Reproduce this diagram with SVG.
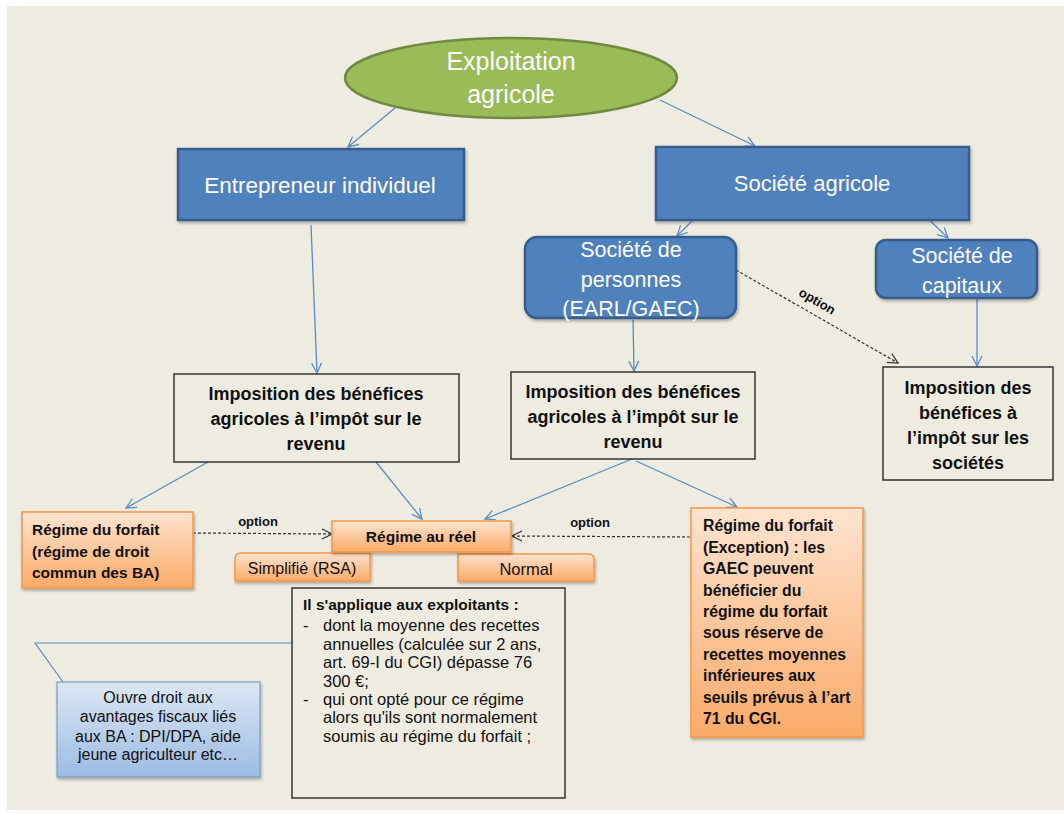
<svg xmlns="http://www.w3.org/2000/svg" width="1064" height="813" viewBox="0 0 1064 813">
<defs>
<linearGradient id="orange" x1="0" y1="0" x2="0" y2="1">
<stop offset="0" stop-color="#FFE4D0"/>
<stop offset="1" stop-color="#FAAA68"/>
</linearGradient>
<linearGradient id="blueGrad" x1="0" y1="0" x2="0" y2="1">
<stop offset="0" stop-color="#DDE7F4"/>
<stop offset="1" stop-color="#9BBBE4"/>
</linearGradient>
<filter id="shadow" x="-10%" y="-10%" width="130%" height="140%">
<feDropShadow dx="1" dy="2" stdDeviation="1.5" flood-color="#000" flood-opacity="0.3"/>
</filter>
<marker id="arrBlue" viewBox="0 0 12 12" refX="11" refY="6" markerWidth="12" markerHeight="12" markerUnits="userSpaceOnUse" orient="auto">
<path d="M1,1 L11,6 L1,11" fill="none" stroke="#5B8BC6" stroke-width="1.3"/>
</marker>
<marker id="arrDark" viewBox="0 0 12 12" refX="11" refY="6" markerWidth="12" markerHeight="12" markerUnits="userSpaceOnUse" orient="auto">
<path d="M1,1 L11,6 L1,11" fill="none" stroke="#333" stroke-width="1.2"/>
</marker>
</defs>
<style>
.blue{fill:#4F81BD;stroke:#385D8A;stroke-width:2.5}
.orng{fill:url(#orange);stroke:#F79646;stroke-width:1.5}
.plain{fill:none;stroke:#333;stroke-width:1.5}
.wt{font-family:"Liberation Sans",Arial,sans-serif;fill:#fff;text-anchor:middle}
.bd{font-family:"Liberation Sans",Arial,sans-serif;font-weight:bold;fill:#111}
.rg{font-family:"Liberation Sans",Arial,sans-serif;fill:#111}
.c{text-anchor:middle}
.conn{fill:none;stroke:#5B8BC6;stroke-width:1.3;marker-end:url(#arrBlue)}
.dash{fill:none;stroke:#333;stroke-width:1.2;stroke-dasharray:3 2;marker-end:url(#arrDark)}
.opt{font-family:"Liberation Sans",Arial,sans-serif;font-weight:bold;font-size:13px;fill:#111;text-anchor:middle}
</style>
<rect x="0" y="0" width="1064" height="813" fill="#ffffff"/>
<rect x="7" y="6" width="1057" height="804" fill="#EEECE1"/>

<g id="connectors">
<line class="conn" x1="395" y1="108" x2="348" y2="147"/>
<line class="conn" x1="660" y1="100" x2="755" y2="146"/>
<line class="conn" x1="708" y1="205" x2="677" y2="236"/>
<line class="conn" x1="914" y1="205" x2="948" y2="238"/>
<line class="conn" x1="311" y1="225" x2="317" y2="373"/>
<line class="conn" x1="633" y1="320" x2="634" y2="371"/>
<line class="conn" x1="977" y1="298" x2="977" y2="366"/>
<line class="conn" x1="208" y1="462" x2="126" y2="508"/>
<line class="conn" x1="376" y1="462" x2="422" y2="519"/>
<line class="conn" x1="632" y1="459" x2="485" y2="519"/>
<line class="conn" x1="636" y1="461" x2="737" y2="507"/>
<line class="dash" x1="736" y1="270" x2="898" y2="363"/>
<line class="dash" x1="193" y1="533" x2="332" y2="534"/>
<line class="dash" x1="690" y1="537" x2="512" y2="536"/>
<text class="opt" transform="translate(815,305) rotate(30)">option</text>
<text class="opt" x="258" y="526">option</text>
<text class="opt" x="590" y="527">option</text>
<polyline points="63,682 35,643 293,643" fill="none" stroke="#5B8BC6" stroke-width="1.2"/>
</g>

<g id="exploitation">
<ellipse cx="511" cy="78" rx="166" ry="40" fill="#9BBB59" stroke="#71893F" stroke-width="2.5"/>
<text class="wt" x="511" y="70" font-size="25">Exploitation</text>
<text class="wt" x="511" y="103" font-size="25">agricole</text>
</g>

<g id="entrepreneur">
<rect class="blue" x="178" y="149" width="286" height="71" filter="url(#shadow)"/>
<text class="wt" x="320" y="193" font-size="22.5">Entrepreneur individuel</text>
</g>

<g id="societe-agricole">
<rect class="blue" x="656" y="147" width="313" height="73" filter="url(#shadow)"/>
<text class="wt" x="812" y="191" font-size="22">Société agricole</text>
</g>

<g id="societe-personnes">
<rect class="blue" x="525" y="237" width="211" height="81" rx="12" filter="url(#shadow)"/>
<text class="wt" x="631" y="257" font-size="21.5">Société de</text>
<text class="wt" x="631" y="287" font-size="21.5">personnes</text>
<text class="wt" x="631" y="316" font-size="21.5">(EARL/GAEC)</text>
</g>

<g id="societe-capitaux">
<rect class="blue" x="876" y="240" width="161" height="58" rx="10" filter="url(#shadow)"/>
<text class="wt" x="962" y="263" font-size="21.5">Société de</text>
<text class="wt" x="962" y="293" font-size="21.5">capitaux</text>
</g>

<g id="imposition-ir-1">
<rect class="plain" x="174" y="374" width="285" height="88"/>
<text class="bd c" x="316" y="400" font-size="18">Imposition  des bénéfices</text>
<text class="bd c" x="316" y="425" font-size="18">agricoles à l’impôt sur le</text>
<text class="bd c" x="316" y="450" font-size="18">revenu</text>
</g>

<g id="imposition-ir-2">
<rect class="plain" x="511" y="372" width="244" height="87"/>
<text class="bd c" x="633" y="398" font-size="18">Imposition  des bénéfices</text>
<text class="bd c" x="633" y="423" font-size="18">agricoles à l’impôt sur le</text>
<text class="bd c" x="633" y="448" font-size="18">revenu</text>
</g>

<g id="imposition-is">
<rect class="plain" x="883" y="367" width="170" height="113"/>
<text class="bd c" x="968" y="394" font-size="18">Imposition  des</text>
<text class="bd c" x="968" y="419" font-size="18">bénéfices à</text>
<text class="bd c" x="968" y="444" font-size="18">l’impôt sur les</text>
<text class="bd c" x="968" y="469" font-size="18">sociétés</text>
</g>

<g id="regime-forfait">
<rect class="orng" x="22" y="512" width="171" height="76" filter="url(#shadow)"/>
<text class="bd" x="32" y="535" font-size="15.5">Régime du forfait</text>
<text class="bd" x="32" y="557" font-size="15.5">(régime de droit</text>
<text class="bd" x="32" y="578" font-size="15.5">commun des BA)</text>
</g>

<g id="simplifie">
<path class="orng" d="M241,553 L370,553 L370,581 L235,581 L235,559 Q235,553 241,553 Z" filter="url(#shadow)"/>
<text class="rg c" x="302" y="574" font-size="16">Simplifié (RSA)</text>
</g>

<g id="normal">
<path class="orng" d="M458,554 L588,554 Q594,554 594,560 L594,581 L458,581 Z" filter="url(#shadow)"/>
<text class="rg c" x="526" y="575" font-size="16.5">Normal</text>
</g>

<g id="regime-reel">
<rect class="orng" x="332" y="521" width="179" height="31" filter="url(#shadow)"/>
<text class="bd c" x="421" y="542" font-size="15.5">Régime au réel</text>
</g>

<g id="regime-forfait-exception">
<rect class="orng" x="691" y="508" width="172" height="229" filter="url(#shadow)"/>
<text class="bd" x="703" y="531" font-size="15.8">Régime du forfait</text>
<text class="bd" x="703" y="553" font-size="15.8">(Exception) : les</text>
<text class="bd" x="703" y="574" font-size="15.8">GAEC peuvent</text>
<text class="bd" x="703" y="596" font-size="15.8">bénéficier du</text>
<text class="bd" x="703" y="617" font-size="15.8">régime du forfait</text>
<text class="bd" x="703" y="638" font-size="15.8">sous réserve de</text>
<text class="bd" x="703" y="660" font-size="15.8">recettes moyennes</text>
<text class="bd" x="703" y="681" font-size="15.8">inférieures aux</text>
<text class="bd" x="703" y="703" font-size="15.8">seuils prévus à l’art</text>
<text class="bd" x="703" y="724" font-size="15.8">71 du CGI.</text>
</g>

<g id="conditions">
<rect class="plain" x="292" y="588" width="273" height="210"/>
<text class="bd" x="303" y="610" font-size="15.5">Il s'applique aux exploitants :</text>
<text class="rg" x="303" y="631" font-size="16.5">-</text>
<text class="rg" x="323" y="631" font-size="16.5">dont la moyenne des recettes</text>
<text class="rg" x="323" y="650" font-size="16.5">annuelles (calculée sur 2 ans,</text>
<text class="rg" x="323" y="668" font-size="16.5">art. 69-I du CGI) dépasse 76</text>
<text class="rg" x="323" y="687" font-size="16.5">300 €;</text>
<text class="rg" x="303" y="705" font-size="16.5">-</text>
<text class="rg" x="323" y="705" font-size="16.5"> qui ont opté pour ce régime</text>
<text class="rg" x="323" y="723" font-size="16.5">alors qu'ils sont normalement</text>
<text class="rg" x="323" y="742" font-size="16.5">soumis au régime du forfait ;</text>
</g>

<g id="avantages">
<rect x="57" y="682" width="203" height="95" fill="url(#blueGrad)" stroke="#7C9CC8" stroke-width="1.2" filter="url(#shadow)"/>
<text class="rg c" x="158" y="703" font-size="16">Ouvre droit aux</text>
<text class="rg c" x="158" y="722" font-size="16">avantages fiscaux liés</text>
<text class="rg c" x="158" y="742" font-size="16">aux BA : DPI/DPA, aide</text>
<text class="rg c" x="158" y="760" font-size="16">jeune agriculteur etc…</text>
</g>
</svg>
